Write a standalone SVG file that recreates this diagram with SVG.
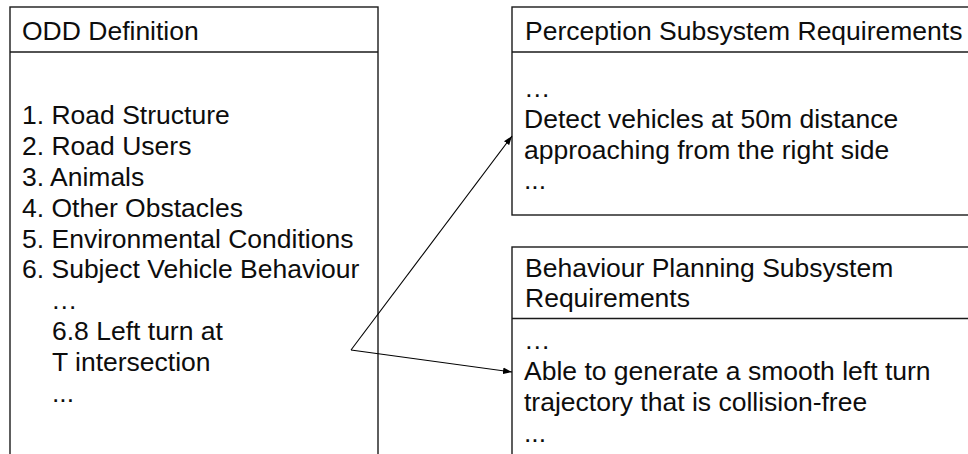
<svg xmlns="http://www.w3.org/2000/svg" width="968" height="454" viewBox="0 0 968 454">
  <style>
    .box { fill: #ffffff; stroke: #1a1a1a; stroke-width: 1.4; }
    .rule { stroke: #1a1a1a; stroke-width: 1.4; }
    .t { font-family: "Liberation Sans", Arial, Helvetica, sans-serif; font-size: 26.5px; fill: #0d0d0d; }
    .link { fill: none; stroke: #000000; stroke-width: 1.1; }
  </style>
  <defs>
    <marker id="arrow" markerUnits="userSpaceOnUse" markerWidth="10" markerHeight="8" refX="9" refY="4" orient="auto">
      <path d="M0,0.8 L9,4 L0,7.2 Z" fill="#000000"/>
    </marker>
  </defs>
  <rect width="968" height="454" fill="#ffffff"/>

  <!-- ODD definition list -->
  <g id="odd-definition">
    <rect class="box" x="10" y="7" width="368" height="460"/>
    <line class="rule" x1="10" y1="52" x2="378" y2="52"/>
    <text class="t" x="22" y="40">ODD Definition</text>
    <text class="t" x="22" y="124.3">1. Road Structure</text>
    <text class="t" x="22" y="155.1">2. Road Users</text>
    <text class="t" x="22" y="185.9">3. Animals</text>
    <text class="t" x="22" y="216.7">4. Other Obstacles</text>
    <text class="t" x="22" y="247.5">5. Environmental Conditions</text>
    <text class="t" x="22" y="278.3">6. Subject Vehicle Behaviour</text>
    <text class="t" x="51" y="309.1">…</text>
    <text class="t" x="52" y="339.9">6.8 Left turn at</text>
    <text class="t" x="52" y="370.7">T intersection</text>
    <text class="t" x="52" y="401.5">...</text>
  </g>

  <!-- Perception subsystem requirements -->
  <g id="perception-requirements">
    <rect class="box" x="512" y="7" width="470" height="208"/>
    <line class="rule" x1="512" y1="52" x2="982" y2="52"/>
    <text class="t" x="525" y="40">Perception Subsystem Requirements</text>
    <text class="t" x="524" y="97">…</text>
    <text class="t" x="524" y="127.8">Detect vehicles at 50m distance</text>
    <text class="t" x="524" y="158.6">approaching from the right side</text>
    <text class="t" x="524" y="189.4">...</text>
  </g>

  <!-- Behaviour planning subsystem requirements -->
  <g id="behaviour-planning-requirements">
    <rect class="box" x="512" y="247" width="470" height="230"/>
    <line class="rule" x1="512" y1="318.5" x2="982" y2="318.5"/>
    <text class="t" x="525" y="276.7">Behaviour Planning Subsystem</text>
    <text class="t" x="525" y="307.3">Requirements</text>
    <text class="t" x="524" y="349">…</text>
    <text class="t" x="524" y="380">Able to generate a smooth left turn</text>
    <text class="t" x="524" y="411">trajectory that is collision-free</text>
    <text class="t" x="524" y="442">...</text>
  </g>

  <!-- Traceability links from the ODD item to the subsystem requirements -->
  <g id="connectors">
    <line class="link" x1="351" y1="350" x2="512" y2="136" marker-end="url(#arrow)"/>
    <line class="link" x1="351" y1="350" x2="512" y2="372" marker-end="url(#arrow)"/>
  </g>
</svg>
